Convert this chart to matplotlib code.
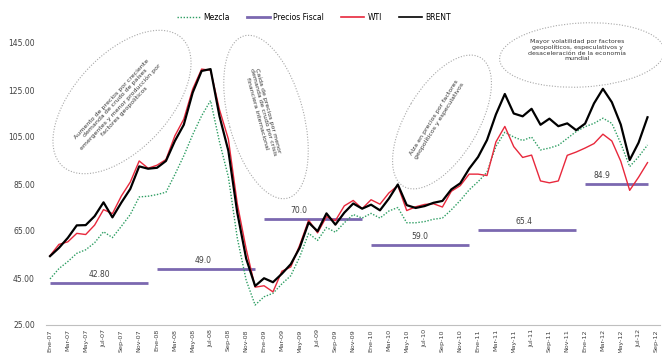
import numpy as np
import matplotlib
matplotlib.use("Agg")
import matplotlib.pyplot as plt
from matplotlib.patches import Ellipse
from matplotlib.lines import Line2D

# ---------------- data ----------------
month_abbr = ["Ene", "Feb", "Mar", "Abr", "May", "Jun", "Jul", "Ago", "Sep", "Oct", "Nov", "Dic"]
categories = [f"{m}-{y:02d}" for y in range(7, 13) for m in month_abbr][:69]  # Ene-07 .. Sep-12

wti = [54.5, 59.3, 60.4, 64.0, 63.5, 67.5, 74.1, 72.4, 79.9, 85.8, 94.8, 91.7,
       93.0, 95.4, 105.5, 112.6, 125.4, 133.9, 133.4, 116.7, 104.1, 76.6, 57.3, 41.1,
       41.7, 39.1, 47.9, 49.7, 59.0, 69.6, 64.2, 71.1, 69.4, 75.7, 78.0, 74.5,
       78.3, 76.4, 81.2, 84.3, 73.7, 75.3, 76.3, 76.6, 75.2, 81.9, 84.3, 89.2,
       89.2, 88.6, 102.9, 109.5, 100.9, 96.3, 97.3, 86.3, 85.5, 86.3, 97.2, 98.6,
       100.3, 102.2, 106.2, 103.3, 94.7, 82.3, 87.9, 94.1]

brent = [54.3, 57.8, 62.1, 67.4, 67.5, 71.3, 77.2, 70.8, 77.1, 82.9, 92.5, 91.5,
         91.9, 94.8, 103.3, 110.2, 123.9, 133.1, 133.9, 113.9, 99.1, 72.8, 53.2, 41.6,
         44.9, 43.2, 46.8, 50.9, 57.9, 68.6, 64.9, 72.5, 67.7, 72.8, 76.7, 74.5,
         76.2, 73.8, 78.8, 84.8, 76.0, 74.8, 75.6, 77.0, 77.8, 82.7, 85.3, 91.5,
         96.5, 103.7, 114.6, 123.3, 115.0, 113.8, 117.0, 110.2, 112.8, 109.6, 110.8, 107.9,
         110.7, 119.3, 125.5, 119.8, 110.3, 95.2, 102.6, 113.4]

mezcla = [44.6, 49.0, 52.0, 55.5, 57.0, 60.0, 64.7, 62.2, 67.0, 72.0, 79.5, 79.8,
          80.5, 81.5, 89.0, 97.0, 106.0, 114.0, 120.5, 103.0, 88.0, 62.0, 44.0, 33.5,
          37.0, 38.5, 42.5, 46.0, 54.0, 64.0, 61.0, 66.5, 64.5, 68.5, 72.0, 70.5,
          72.5, 70.5, 73.5, 75.0, 68.5, 68.5, 69.0, 70.0, 70.5, 74.0, 78.0, 82.5,
          86.0, 90.0, 101.0, 107.0, 105.0, 103.5, 105.0, 99.5, 100.3, 101.5, 104.4, 107.3,
          109.4, 110.8, 113.0, 110.8, 102.3, 92.4, 96.6, 101.6]

fiscal_years = [2007, 2008, 2009, 2010, 2011, 2012]
fiscal_values = [42.80, 49.0, 70.0, 59.0, 65.4, 84.9]
fiscal_labels = ["42.80", "49.0", "70.0", "59.0", "65.4", "84.9"]

yticks = [25, 45, 65, 85, 105, 125, 145]

notes = [
    "Aumento de precios por creciente\ndemanda de crudo de países\nemergentes y menor producción por\nfactores geopolíticos",
    "Caída de precios por menor\ndemanda de crudo por crisis\nfinanciera internacional",
    "Alza en precios por factores\ngeopolíticos y especulativos",
    "Mayor volatilidad por factores\ngeopolíticos, especulativos y\ndesaceleración de la economía\nmundial",
]

# ---------------- figure ----------------
W, H = 662, 353
fig = plt.figure(figsize=(W / 100, H / 100), dpi=100)
plt.rcParams['font.family'] = ['DejaVu Sans']

ax = fig.add_axes([46 / W, (H - 325) / H, 614 / W, 282 / H])
n = len(categories)
x = np.arange(len(wti))

GREEN = "#2E9E63"
PURPLE = "#7B68B0"
RED = "#E8283C"

ax.plot(x, mezcla, color=GREEN, lw=1.0, ls=(0, (1, 1.2)), zorder=3)
ax.plot(x, wti, color=RED, lw=1.0, zorder=4)
ax.plot(x, brent, color="black", lw=1.6, zorder=5)

last = len(wti) - 1
label_shift = [0, -0.3, -1.6, 0, -0.4, -1.6]
for yr, val, lab, sh in zip(fiscal_years, fiscal_values, fiscal_labels, label_shift):
    s = (yr - 2007) * 12
    e = min(s + 11, last)
    ax.plot([s, e], [val, val], color=PURPLE, lw=2.0, solid_capstyle="butt", zorder=2)
    ax.text((s + e) / 2 + sh, val + 1.6, lab, ha="center", va="bottom", fontsize=5.5,
            color="#404040", zorder=6)

ax.set_xlim(-0.45, 68.4)
ax.set_ylim(25, 145)
ax.set_yticks(yticks)
ax.set_yticklabels([f"{v:.2f}" for v in yticks], fontsize=5.5, color="#404040")
ax.set_xticks(np.arange(0, n, 2))
ax.set_xticklabels(categories[::2], rotation=90, fontsize=4.6, color="#404040")
ax.tick_params(axis="both", length=0)
ax.tick_params(axis="x", pad=3)
ax.tick_params(axis="y", pad=8)
for sp in ["top", "right", "left"]:
    ax.spines[sp].set_visible(False)
ax.spines["bottom"].set_color("#BFBFBF")
ax.spines["bottom"].set_linewidth(0.8)

# legend
handles = [
    Line2D([], [], color=GREEN, lw=1.0, ls=(0, (1, 1.2))),
    Line2D([], [], color=PURPLE, lw=2.0),
    Line2D([], [], color=RED, lw=1.2),
    Line2D([], [], color="black", lw=1.2),
]
fig.legend(handles, ["Mezcla", "Precios Fiscal", "WTI", "BRENT"], loc="center",
           bbox_to_anchor=(314 / W, 1 - 17 / H), ncol=4, frameon=False, fontsize=5.5,
           handlelength=3.0, columnspacing=2.2, handletextpad=0.5)

# overlay for annotation ellipses (pixel coordinates, y downward)
ov = fig.add_axes([0, 0, 1, 1], zorder=10)
ov.set_xlim(0, W)
ov.set_ylim(H, 0)
ov.axis("off")
ov.patch.set_alpha(0)

ell_style = dict(fill=False, ec="#A8A8A8", lw=0.8, ls=(0, (1, 1.5)))
# (cx, cy, major, minor, visual angle)
ellipses = [(122, 102, 175, 95, 47), (266, 117, 168, 75, 105), (442, 122, 150, 72, 59), (582, 55, 165, 64, 3)]
for cx, cy, w, h, a in ellipses:
    ov.add_patch(Ellipse((cx, cy), w, h, angle=-a, **ell_style))

note_pos = [(118, 105, 47), (263, 112, -75), (437, 119, 58), (577, 50, 0)]
for txt, (tx, ty, rot) in zip(notes, note_pos):
    ov.text(tx, ty, txt, rotation=rot, ha="center", va="center", fontsize=4.5,
            color="#333333", linespacing=1.15, multialignment="center")

fig.savefig("out.png", dpi=100)
